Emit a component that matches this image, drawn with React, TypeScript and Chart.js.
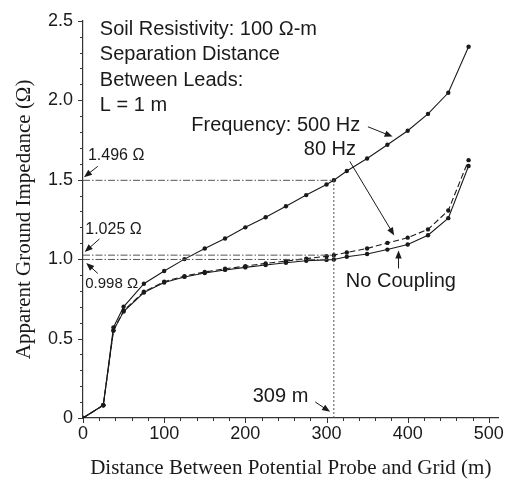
import React, { useEffect, useRef } from 'react';
import { Chart, registerables } from 'chart.js';

Chart.register(...registerables);

// ---- data ----
const distance = [0, 25, 37.5, 50, 75, 100, 125, 150, 175, 200, 225, 250, 275, 300, 309, 325, 350, 375, 400, 425, 450, 475];
const z500Hz = [0, 0.08, 0.57, 0.70, 0.845, 0.925, 1.0, 1.067, 1.13, 1.2, 1.264, 1.333, 1.403, 1.47, 1.496, 1.555, 1.633, 1.72, 1.808, 1.914, 2.047, 2.337];
const z80Hz = [0, 0.08, 0.55, 0.675, 0.795, 0.858, 0.893, 0.919, 0.939, 0.956, 0.973, 0.988, 1.003, 1.018, 1.025, 1.042, 1.067, 1.102, 1.135, 1.187, 1.306, 1.623];
const zNoCoupling = [0, 0.08, 0.55, 0.67, 0.79, 0.853, 0.888, 0.913, 0.932, 0.948, 0.963, 0.977, 0.99, 0.995, 0.998, 1.015, 1.032, 1.06, 1.092, 1.15, 1.258, 1.586];

const xTickValues = [0, 100, 200, 300, 400, 500];
const yTickValues = [0, 0.5, 1.0, 1.5, 2.0, 2.5];
const xMinorCount = 25; // minor ticks every 20 m
const yMinorCount = 25; // minor ticks every 0.1 ohm

const markDistance = 309;
const mark500 = 1.496;
const mark80 = 1.025;
const markNone = 0.998;

const infoLines = ['Soil Resistivity: 100 \u03A9-m', 'Separation Distance', 'Between Leads:', 'L = 1 m'];
const xTitle = 'Distance Between Potential Probe and Grid (m)';
const yTitle = 'Apparent Ground Impedance (\u03A9)';

const INK = '#1a1a1a';
const SANS = '"Liberation Sans", Arial, sans-serif';
const SERIF = '"Liberation Serif", "Times New Roman", serif';

function drawArrow(ctx: CanvasRenderingContext2D, x1: number, y1: number, x2: number, y2: number) {
  const ang = Math.atan2(y2 - y1, x2 - x1);
  const len = 8;
  const w = 3.2;
  ctx.beginPath();
  ctx.moveTo(x1, y1);
  ctx.lineTo(x2 - Math.cos(ang) * len * 0.8, y2 - Math.sin(ang) * len * 0.8);
  ctx.stroke();
  ctx.beginPath();
  ctx.moveTo(x2, y2);
  ctx.lineTo(x2 - Math.cos(ang) * len - Math.sin(ang) * w, y2 - Math.sin(ang) * len + Math.cos(ang) * w);
  ctx.lineTo(x2 - Math.cos(ang) * len + Math.sin(ang) * w, y2 - Math.sin(ang) * len - Math.cos(ang) * w);
  ctx.closePath();
  ctx.fill();
}

const tickMarks = {
  id: 'tickMarks',
  afterDraw(chart: any) {
    const { ctx, scales } = chart;
    const x = scales.x;
    const y = scales.y;
    ctx.save();
    ctx.strokeStyle = '#333';
    ctx.lineWidth = 1;
    for (let i = 0; i <= xMinorCount; i++) {
      const v = i * 20;
      const px = Math.round(x.getPixelForValue(v)) + 0.5;
      const major = i % 5 === 0;
      ctx.beginPath();
      ctx.moveTo(px, y.bottom);
      ctx.lineTo(px, y.bottom + (major ? 5 : 3));
      ctx.stroke();
    }
    for (let i = 0; i <= yMinorCount; i++) {
      const v = i * 0.1;
      const py = Math.round(y.getPixelForValue(v)) + 0.5;
      const major = i % 5 === 0;
      ctx.beginPath();
      ctx.moveTo(x.left, py);
      ctx.lineTo(x.left - (major ? 5 : 3), py);
      ctx.stroke();
    }
    ctx.restore();
  },
};

const annotations = {
  id: 'annotations',
  afterDatasetsDraw(chart: any) {
    const { ctx, scales } = chart;
    const X = (v: number) => scales.x.getPixelForValue(v);
    const Y = (v: number) => scales.y.getPixelForValue(v);
    ctx.save();
    ctx.fillStyle = INK;
    ctx.strokeStyle = INK;
    ctx.lineWidth = 1;
    ctx.textBaseline = 'alphabetic';
    ctx.textAlign = 'left';

    // info block
    ctx.font = `20px ${SANS}`;
    const infoY = [2.413, 2.251, 2.09, 1.934];
    infoLines.forEach((t, i) => ctx.fillText(t, X(20.7), Y(infoY[i])));

    // frequency labels
    ctx.fillText('Frequency: 500 Hz', X(133.4), Y(1.808));
    ctx.fillText('80 Hz', X(272), Y(1.656));
    drawArrow(ctx, X(351), Y(1.833), X(381.4), Y(1.771));
    drawArrow(ctx, X(328.7), Y(1.615), X(383.4), Y(1.149));

    // no coupling
    ctx.fillText('No Coupling', X(323.8), Y(0.827));
    drawArrow(ctx, X(388.7), Y(0.941), X(388.7), Y(1.055));

    // 309 m
    ctx.fillText(`${markDistance} m`, X(209.1), Y(0.101));
    drawArrow(ctx, X(286.1), Y(0.101), X(304.4), Y(0.039));

    // value labels
    ctx.font = `16px ${SANS}`;
    ctx.fillText(`${mark500.toFixed(3)} \u03A9`, X(6.1), Y(1.625));
    drawArrow(ctx, X(18.2), Y(1.584), X(1.2), Y(1.516));
    ctx.fillText(`${mark80.toFixed(3)} \u03A9`, X(2.8), Y(1.159));
    drawArrow(ctx, X(20.3), Y(1.127), X(2.1), Y(1.045));
    ctx.font = `15px ${SANS}`;
    ctx.fillText(`${markNone.toFixed(3)} \u03A9`, X(2.8), Y(0.817));
    drawArrow(ctx, X(18.2), Y(0.91), X(4.0), Y(0.976));

    ctx.restore();
  },
};

const pts = (ys: number[]) => distance.map((d, i) => ({ x: d, y: ys[i] }));

export default function App() {
  const ref = useRef<HTMLCanvasElement>(null);

  useEffect(() => {
    if (!ref.current) return;
    const seriesStyle = {
      borderColor: INK,
      backgroundColor: INK,
      borderWidth: 1.1,
      pointRadius: 2.2,
      pointHoverRadius: 2.2,
      pointBorderWidth: 0,
      tension: 0,
      fill: false,
    };
    const refLine = {
      borderColor: '#555',
      borderWidth: 1,
      pointRadius: 0,
      fill: false,
      borderDash: [7, 2, 1.5, 2],
    };
    const chart = new Chart(ref.current, {
      type: 'line',
      data: {
        datasets: [
          { ...refLine, label: 'ref 500', data: [{ x: 0, y: mark500 }, { x: markDistance, y: mark500 }] },
          { ...refLine, label: 'ref 80', data: [{ x: 0, y: mark80 }, { x: markDistance, y: mark80 }] },
          { ...refLine, label: 'ref none', data: [{ x: 0, y: markNone }, { x: markDistance, y: markNone }] },
          { ...refLine, label: 'ref 309', borderDash: [2, 2], data: [{ x: markDistance, y: 0 }, { x: markDistance, y: mark500 }] },
          { ...seriesStyle, label: '500 Hz', data: pts(z500Hz) },
          { ...seriesStyle, label: '80 Hz', data: pts(z80Hz), borderDash: [6, 3] },
          { ...seriesStyle, label: 'No Coupling', data: pts(zNoCoupling) },
        ],
      },
      options: {
        animation: false,
        responsive: false,
        devicePixelRatio: 1,
        layout: { padding: { top: 16, right: 5, left: 0, bottom: 0 } },
        plugins: { legend: { display: false }, tooltip: { enabled: false } },
        scales: {
          x: {
            type: 'linear',
            min: 0,
            max: 512,
            afterBuildTicks: (s: any) => { s.ticks = xTickValues.map((v) => ({ value: v })); },
            afterFit: (s: any) => { s.height = 61; },
            grid: { display: true, drawOnChartArea: false, drawTicks: false },
            border: { display: true, color: '#333', width: 1.2 },
            ticks: { color: INK, font: { family: SANS, size: 18 }, padding: 5, maxRotation: 0, callback: (v: any) => String(v) },
            title: { display: true, text: xTitle, color: INK, font: { family: SERIF, size: 21, lineHeight: 1.0 }, padding: { top: 0, bottom: 0 } },
          },
          y: {
            type: 'linear',
            min: 0,
            max: 2.5,
            afterBuildTicks: (s: any) => { s.ticks = yTickValues.map((v) => ({ value: v })); },
            afterFit: (s: any) => { s.width = 83; },
            grid: { display: true, drawOnChartArea: false, drawTicks: false },
            border: { display: true, color: '#333', width: 1.2 },
            ticks: { color: INK, font: { family: SANS, size: 18 }, padding: 10, callback: (v: any) => (v === 0 ? '0' : Number(v).toFixed(1)) },
            title: { display: true, text: yTitle, color: INK, font: { family: SERIF, size: 21, lineHeight: 1.0 }, padding: { top: 14, bottom: 0 } },
          },
        },
      },
      plugins: [tickMarks, annotations],
    } as any);
    return () => chart.destroy();
  }, []);

  return (
    <div style={{ position: 'fixed', left: 0, top: 0, width: 509, height: 479, background: '#fff' }}>
      <canvas ref={ref} width={509} height={479} style={{ display: 'block' }} />
    </div>
  );
}
